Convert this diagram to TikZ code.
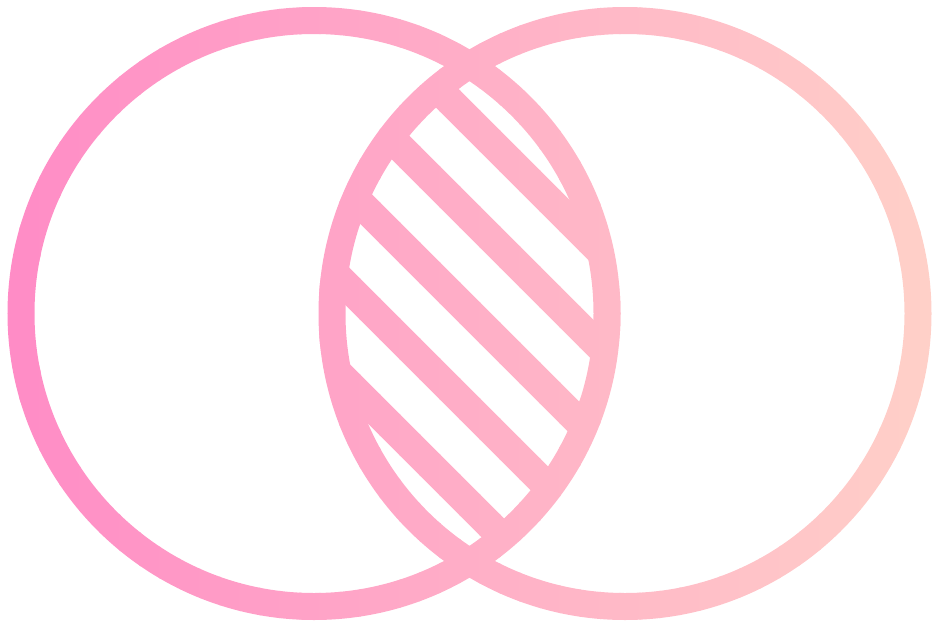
\documentclass[tikz,border=0pt]{standalone}
\usepackage{tikz}

\definecolor{vennleft}{RGB}{255,139,198}
\definecolor{vennright}{RGB}{255,209,200}

\begin{document}
\begin{tikzpicture}[x=1pt,y=-1pt,
    ring/.style={line width=27pt},
    stripe/.style={line width=29pt}]
    \useasboundingbox (0,0) rectangle (938,627);

    % Centres of the two circles
    \coordinate (L) at (314,313.5);
    \coordinate (R) at (625,313.5);

    % Left-to-right colour, one vertical slice at a time
    \foreach \i in {0,...,46}{
        \pgfmathsetmacro{\mix}{100-(\i*20+10)/9.38}
        \colorlet{slicecol}{vennleft!\mix!vennright}
        \begin{scope}
            \clip (\i*20-0.6,0) rectangle (\i*20+20.6,627);
            % Stripes inside the overlap
            \begin{scope}
                \clip (L) circle[radius=293];
                \clip (R) circle[radius=293];
                \foreach \b in {-445,-349,...,131}
                    \draw[stripe, draw=slicecol] (300,300+\b) -- (650,650+\b);
            \end{scope}
            % Rings
            \draw[ring, draw=slicecol] (L) circle[radius=293];
            \draw[ring, draw=slicecol] (R) circle[radius=293];
        \end{scope}
    }
\end{tikzpicture}
\end{document}
